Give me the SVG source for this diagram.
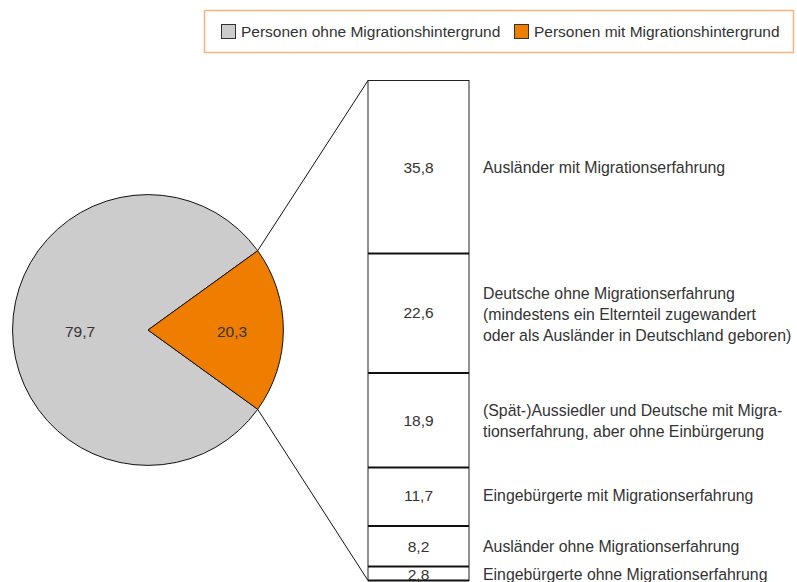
<svg xmlns="http://www.w3.org/2000/svg" width="797" height="582" viewBox="0 0 797 582">
<style>
text{font-family:"Liberation Sans",Arial,sans-serif;font-size:15.5px;fill:#333}
.num{text-anchor:middle}
.lab{font-size:15.85px}
.side{stroke:#222;stroke-width:1;fill:none}
.div{stroke:#111;stroke-width:1.8}
.conn{stroke:#111;stroke-width:1;fill:none}
</style>
<rect width="797" height="582" fill="#fff"/>
<g id="legend">
<rect x="204.5" y="10.5" width="589" height="42" fill="#fff" stroke="#f6b47c" stroke-width="1.5"/>
<rect x="221.5" y="24.5" width="14" height="14" fill="#cccccc" stroke="#333" stroke-width="1"/>
<text x="241" y="37">Personen ohne Migrationshintergrund</text>
<rect x="514.5" y="24.5" width="14" height="14" fill="#ef7d00" stroke="#333" stroke-width="1"/>
<text x="534" y="37">Personen mit Migrationshintergrund</text>
</g>
<g id="pie">
<path d="M148,330 L257.7,250.7 A135.4,135.4 0 1,0 257.7,409.3 Z" fill="#cccccc" stroke="#111" stroke-width="1"/>
<path d="M148,330 L257.7,250.7 A135.4,135.4 0 0,1 257.7,409.3 Z" fill="#ef7d00" stroke="#111" stroke-width="1"/>
<text class="num" x="80" y="337">79,7</text>
<text class="num" x="232" y="337">20,3</text>
</g>
<g id="connectors">
<line class="conn" x1="257.7" y1="250.7" x2="368" y2="80.5"/>
<line class="conn" x1="257.7" y1="409.3" x2="368" y2="580.5"/>
</g>
<g id="bar">
<rect x="368" y="80.5" width="101" height="500" fill="#fff" class="side"/>
<line class="div" x1="368" y1="253.5" x2="469" y2="253.5"/>
<line class="div" x1="368" y1="373" x2="469" y2="373"/>
<line class="div" x1="368" y1="467.5" x2="469" y2="467.5"/>
<line class="div" x1="368" y1="526" x2="469" y2="526"/>
<line class="div" x1="368" y1="566.5" x2="469" y2="566.5"/>
<line class="div" x1="368" y1="580.5" x2="469" y2="580.5"/>
</g>
<g id="seg1"><text class="num" x="418.5" y="173">35,8</text><text class="lab" x="483" y="173">Ausländer mit Migrationserfahrung</text></g>
<g id="seg2"><text class="num" x="418.5" y="318">22,6</text>
<text class="lab" x="483" y="299">Deutsche ohne Migrationserfahrung</text>
<text class="lab" x="483" y="320">(mindestens ein Elternteil zugewandert</text>
<text class="lab" x="483" y="341">oder als Ausländer in Deutschland geboren)</text></g>
<g id="seg3"><text class="num" x="418.5" y="426">18,9</text>
<text class="lab" x="483" y="416">(Spät-)Aussiedler und Deutsche mit Migra-</text>
<text class="lab" x="483" y="437">tionserfahrung, aber ohne Einbürgerung</text></g>
<g id="seg4"><text class="num" x="418.5" y="501">11,7</text><text class="lab" x="483" y="501">Eingebürgerte mit Migrationserfahrung</text></g>
<g id="seg5"><text class="num" x="418.5" y="552">8,2</text><text class="lab" x="483" y="552">Ausländer ohne Migrationserfahrung</text></g>
<g id="seg6"><text class="num" x="418.5" y="580">2,8</text><text class="lab" x="483" y="580">Eingebürgerte ohne Migrationserfahrung</text></g>
</svg>
